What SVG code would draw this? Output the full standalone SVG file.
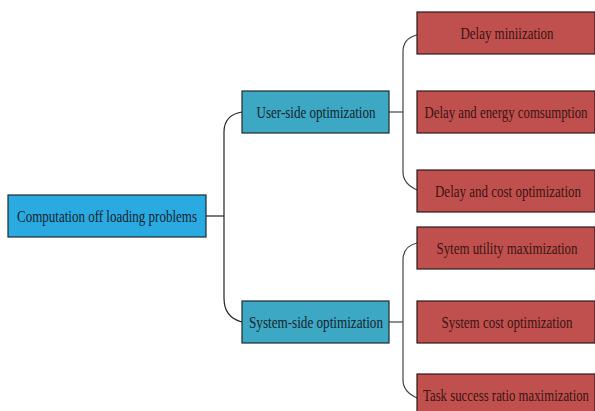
<svg xmlns="http://www.w3.org/2000/svg" width="595" height="411" viewBox="0 0 595 411">
<style>
.root{fill:#29abe2;stroke:#1f2a33;stroke-width:1.2}
.mid{fill:#3ca8c4;stroke:#1f2a33;stroke-width:1.2}
.leaf{fill:#c0504d;stroke:#2a1a1a;stroke-width:1.2}
text{font-family:"Liberation Serif","Times New Roman",serif;font-size:16px;text-anchor:middle}
.t1{fill:#15242e}
.t2{fill:#3a1414}
.c{fill:none;stroke:#222;stroke-width:1.2}
.c2{fill:none;stroke:#444;stroke-width:1.2}
</style>
<rect width="595" height="411" fill="#fff"/>
<g id="connectors">
<path class="c" d="M206,216 H224"/>
<path class="c" d="M242,112 C230,114 224,120 224,132 V298 C224,312 230,319 242,322"/>
<path class="c2" d="M389,112 H403"/>
<path class="c2" d="M417,35 C408,37 403,42 403,52 V172 C403,181 408,186 417,190"/>
<path class="c2" d="M389,322 H403"/>
<path class="c2" d="M417,243 C408,245 403,250 403,260 V380 C403,389 408,394 417,398"/>
</g>
<g id="root"><rect class="root" x="8" y="195" width="198" height="42"/><text class="t1" transform="matrix(0.85,0,0,1,107,221.5)" textLength="211.8" lengthAdjust="spacingAndGlyphs">Computation off loading problems</text></g>
<g id="user"><rect class="mid" x="242" y="91" width="147" height="42"/><text class="t1" transform="matrix(0.85,0,0,1,316,117.5)" textLength="140" lengthAdjust="spacingAndGlyphs">User-side optimization</text></g>
<g id="system"><rect class="mid" x="242" y="301" width="147" height="42"/><text class="t1" transform="matrix(0.85,0,0,1,316,327.5)" textLength="157.6" lengthAdjust="spacingAndGlyphs">System-side optimization</text></g>
<g id="l1"><rect class="leaf" x="417" y="12" width="178" height="42"/><text class="t2" transform="matrix(0.85,0,0,1,507,38.5)" textLength="109.4" lengthAdjust="spacingAndGlyphs">Delay miniization</text></g>
<g id="l2"><rect class="leaf" x="417" y="91" width="178" height="42"/><text class="t2" transform="matrix(0.85,0,0,1,506,117.5)" textLength="191.8" lengthAdjust="spacingAndGlyphs">Delay and energy comsumption</text></g>
<g id="l3"><rect class="leaf" x="417" y="170" width="178" height="42"/><text class="t2" transform="matrix(0.85,0,0,1,508,196.5)" textLength="171.8" lengthAdjust="spacingAndGlyphs">Delay and cost optimization</text></g>
<g id="l4"><rect class="leaf" x="417" y="227" width="178" height="42"/><text class="t2" transform="matrix(0.85,0,0,1,507,253.5)" textLength="165.9" lengthAdjust="spacingAndGlyphs">Sytem utility maximization</text></g>
<g id="l5"><rect class="leaf" x="417" y="301" width="178" height="42"/><text class="t2" transform="matrix(0.85,0,0,1,507,327.5)" textLength="154.1" lengthAdjust="spacingAndGlyphs">System cost optimization</text></g>
<g id="l6"><rect class="leaf" x="417" y="374" width="178" height="42"/><text class="t2" transform="matrix(0.85,0,0,1,506,400.5)" textLength="195.3" lengthAdjust="spacingAndGlyphs">Task success ratio maximization</text></g>
</svg>
